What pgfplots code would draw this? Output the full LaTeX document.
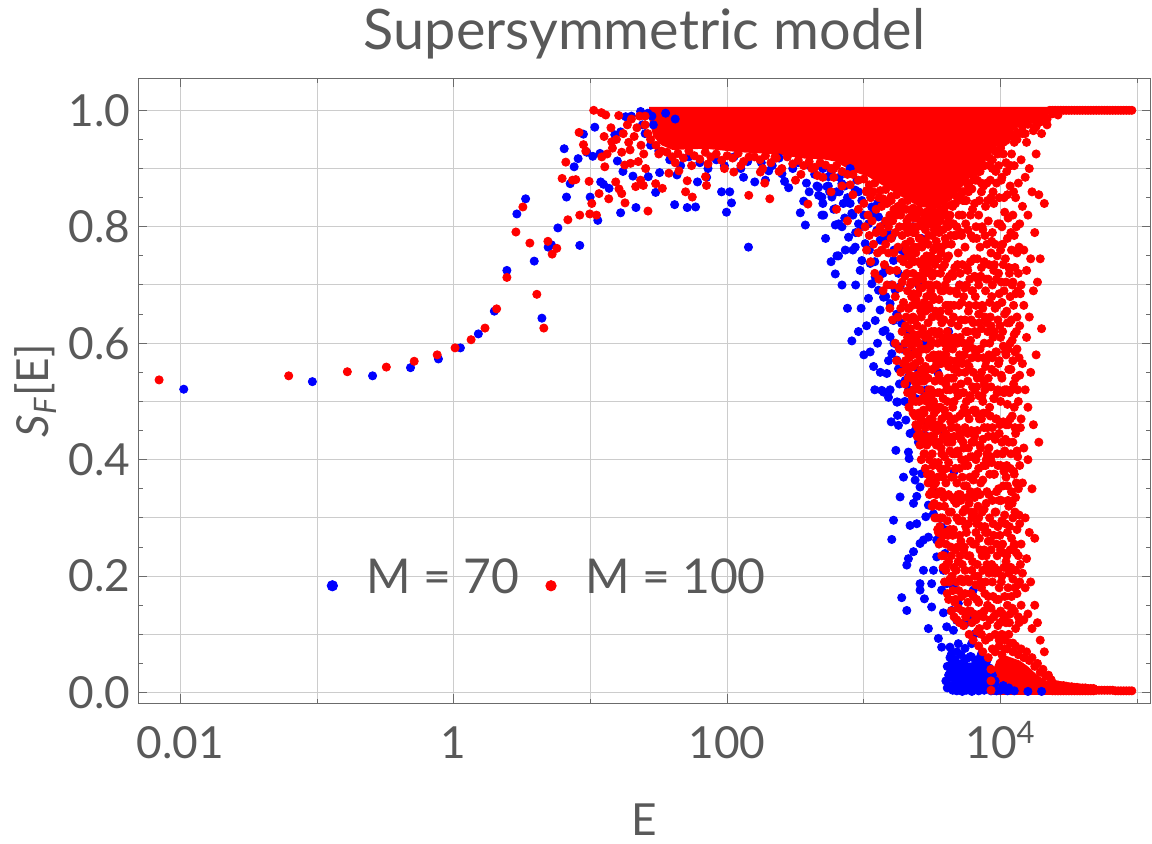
\documentclass[border=0pt]{standalone}
\usepackage{fontspec}
\setmainfont{Lato}
\usepackage{pgfplots}
\pgfplotsset{compat=1.18}
\definecolor{txt}{rgb}{0.35,0.35,0.35}
\definecolor{frm}{rgb}{0.42,0.42,0.42}
\definecolor{grd}{rgb}{0.8,0.8,0.8}
\begin{document}
\begin{tikzpicture}
\path[use as bounding box] (-69.15pt,-70.35pt) rectangle (506.85pt,351.65pt);
\begin{axis}[
  at={(0,0)}, anchor=south west,
  scale only axis, width=506.1pt, height=312.5pt,
  xmode=log, xmin=0.00493, xmax=124900,
  ymin=-0.0184, ymax=1.055,
  /pgf/number format/assume math mode=true,
  xtick={0.01,1,100,10000}, xticklabels={0.01,1,100,10\textsuperscript{4}},
  minor xtick={0.1,10,1000,100000},
  ytick={0,0.2,0.4,0.6,0.8,1.0},
  minor ytick={0.1,0.3,0.5,0.7,0.9},
  extra y ticks={0.05,0.15,0.25,0.35,0.45,0.55,0.65,0.75,0.85,0.95},
  extra y tick labels={},
  extra y tick style={grid=none, major tick length=2.2pt},
  yticklabel style={/pgf/number format/fixed, /pgf/number format/fixed zerofill, /pgf/number format/precision=1,
     font=\fontsize{22.1}{26}\selectfont, text=txt, anchor=east, inner sep=0pt, xshift=-3.9pt},
  xticklabel style={font=\fontsize{22.1}{26}\selectfont, text=txt, anchor=base, inner sep=0pt, yshift=-27.5pt},
  grid=both, grid style={grd, line width=0.5pt}, minor grid style={grd, line width=0.5pt},
  major tick length=4.5pt, minor tick length=2.2pt,
  tick style={frm, line width=0.5pt},
  axis line style={frm, line width=0.6pt},
  xtick pos=both, ytick pos=both,
  title={Supersymmetric model},
  title style={at={(axis description cs:0.5,1)}, anchor=base, yshift=8.5pt, inner sep=0pt,
     font=\fontsize{27.9}{33}\selectfont, text=txt},
  xlabel={E},
  xlabel style={at={(axis description cs:0.5,0)}, anchor=base, yshift=-66.3pt, inner sep=0pt,
     font=\fontsize{22.1}{26}\selectfont, text=txt},
  ylabel={\textit{S}\textsubscript{\textit{F}}[E]},
  ylabel style={at={(axis description cs:-0.1011,0.5)}, anchor=center, inner sep=0pt,
     font=\fontsize{22.1}{26}\selectfont, text=txt},
  legend columns=2,
  legend style={draw=none, fill=none, at={(axis description cs:0.1862,0.2018)}, anchor=west,
     inner sep=0pt, outer sep=0pt, font=\fontsize{24}{29}\selectfont, text=txt,
     nodes={anchor=base},
     /tikz/every even column/.append style={column sep=11.1pt}},
  legend image code/.code={\fill[#1] (0pt,3.65pt) circle (2.6pt); \path[draw=none] (-2.6pt,0pt) -- (15.1pt,0pt);},
  bl/.style={blue, only marks, mark=*, mark size=2.05pt, mark options={draw=none, fill=blue}, forget plot},
  rd/.style={red, only marks, mark=*, mark size=2.05pt, mark options={draw=none, fill=red}, forget plot},
]
% ---------------- M = 70 (blue) ----------------
\addplot[bl] coordinates {
(0.0106,0.521)(0.0925,0.534)(0.255,0.544)(0.483,0.558)(0.773,0.573)(1.119,0.592)(1.514,0.616)(1.982,0.655)
(2.449,0.725)(2.897,0.822)(3.357,0.848)(3.882,0.741)(4.416,0.643)(4.909,0.765)(5.188,0.769)(5.781,0.798)
(6.683,0.851)(6.427,0.934)(7.112,0.874)(7.603,0.903)(8.128,0.917)(8.89,0.959)(8.356,0.768)(9.397,0.928)
(9.954,0.851)(10.40,0.921)(10.76,0.971)(11.32,0.811)(11.89,0.877)(11.75,0.926)(12.45,0.873)(13.68,0.866)
(15.07,0.958)(16.63,0.963)(16.63,0.824)(15.74,0.913)(17.30,0.895)(18.11,0.989)(20.46,0.887)(21.53,0.833)
(23.28,0.998)(26.49,0.886)(29.99,0.859)(32.06,0.893)(41.30,0.838)(42.95,0.889)(51.05,0.833)(58.75,0.834)
(60.67,0.877)(91.0,0.86)(104.5,0.86)(107.6,0.841)(98.9,0.825)(143.2,0.765)(159.2,0.877)(201.4,0.896)
(251.8,0.891)(281.8,0.867)(342.8,0.824)(373.3,0.803)(363.1,0.844)(453.9,0.87)(493.2,0.82)(466.7,0.854)
(537.0,0.869)(618.0,0.831)(618.0,0.803)(635.3,0.75)(618.0,0.719)
(28.18,0.99)(35.48,0.995)(41.69,0.985)(23.99,0.975)(31.62,0.93)(38.02,0.915)(45.71,0.905)(52.48,0.92)
(63.1,0.91)(72.44,0.9)(83.18,0.915)(95.5,0.905)(112.2,0.92)(125.9,0.9)(141.3,0.912)(177.8,0.91)
(213.8,0.905)(239.9,0.918)(302,0.9)(331.1,0.91)(398.1,0.905)(436.5,0.89)(501.2,0.9)(575.4,0.895)
(660.7,0.885)(724.4,0.87)(794.3,0.9)(891.3,0.88)(70.79,0.885)(131.8,0.885)(190.5,0.88)(263,0.878)
(380.2,0.875)(562.3,0.86)(707.9,0.84)(398.1,0.86)(19.95,0.99)(26.3,0.995)(25.12,0.96)(27.54,0.94)(28.84,0.975)
(466.7,0.868)(493.2,0.851)(508.2,0.820)(583.4,0.851)(653.1,0.750)(816.6,0.604)(1112,0.585)(1178,0.560)
(966.1,0.742)(939.7,0.725)(1112,0.737)(1143,0.702)(1081,0.677)(1315,0.657)(1432,0.622)(1556,0.611)
(1742,0.571)(1791,0.556)(1472,0.548)(1556,0.520)(1393,0.516)(1742,0.499)(2061,0.531)(2118,0.542)
(2506,0.548)(1279,0.691)(1556,0.668)(1841,0.697)(1791,0.720)(1648,0.742)(1892,0.760)(1315,0.777)
(1245,0.794)(1514,0.788)(1081,0.805)(914.1,0.805)(816.6,0.823)(772.7,0.782)(653.1,0.805)(552.1,0.886)
(690.2,0.874)(865.0,0.863)(966.1,0.845)(1143,0.834)(1279,0.817)(1432,0.805)(1600,0.782)(1023,0.771)
(865.0,0.765)(731.1,0.760)(1432,0.731)(1211,0.714)(1694,0.691)(1393,0.679)(1211,0.639)(1648,0.639)
(1892,0.634)(2004,0.599)(1791,0.594)(1600,0.582)(2239,0.582)(2371,0.559)(2004,0.536)(2239,0.513)
(2649,0.519)(2805,0.542)(583.4,0.897)(493.2,0.903)(751.6,0.891)
(524.8,0.78)(575.4,0.74)(691.8,0.70)(758.6,0.66)(724.4,0.815)(831.8,0.76)(871,0.70)(955,0.66)
(912,0.62)(1000,0.58)(1047,0.63)(1096,0.76)(1148,0.82)(1202,0.74)(1259,0.60)(1318,0.55)
(1380,0.72)(1445,0.68)(1514,0.57)(1585,0.70)(1660,0.60)(1738,0.65)(1820,0.53)(1905,0.59)
(1995,0.56)(1995,0.50)(2089,0.62)(2291,0.52)(2188,0.58)(2399,0.505)(955,0.80)(1047,0.86)
(1259,0.84)(1445,0.78)(1660,0.76)(794.3,0.84)(631,0.86)(1202,0.52)(1380,0.62)
(501.2,0.84)(549.5,0.87)(602.6,0.83)(660.7,0.86)(758.6,0.85)(831.8,0.82)(912,0.86)(1000,0.82)(871,0.79)(691.8,0.80)
(1352,0.519)(1514,0.507)(1762,0.499)(2118,0.519)(2239,0.511)(1762,0.476)(1585,0.465)(1791,0.459)
(2028,0.468)(2178,0.445)(2371,0.450)(2965,0.462)(2805,0.442)(2506,0.430)(1714,0.416)(2118,0.413)
(2143,0.402)(2307,0.379)(1950,0.370)(2371,0.365)(2649,0.376)(2576,0.353)(1841,0.336)(2438,0.337)
(2307,0.325)(2965,0.322)(3319,0.342)(1648,0.296)(2178,0.287)(2438,0.290)(2838,0.302)(3228,0.307)
(3606,0.299)(1600,0.263)(2576,0.256)(2729,0.262)(2965,0.267)(3412,0.262)(3707,0.284)(4036,0.279)
(2118,0.230)(2307,0.242)(3412,0.233)(3926,0.239)(2061,0.219)(2729,0.210)(3228,0.210)(3819,0.210)
(2576,0.187)(3133,0.187)(2576,0.176)(2773,0.161)(3707,0.176)(4036,0.187)(4519,0.181)(3133,0.147)
(3819,0.137)(4385,0.141)(4909,0.153)(6310,0.176)(1892,0.163)(2061,0.141)(2965,0.110)(3508,0.093)
(4036,0.113)(4519,0.107)(4775,0.124)(5495,0.118)(5970,0.124)(6501,0.101)(6138,0.084)(3707,0.078)
(4266,0.078)(4385,0.067)(4909,0.084)(5495,0.076)(4645,0.056)(5188,0.050)(6138,0.061)(6871,0.050)
(7262,0.067)(7691,0.056)(4519,0.038)(4775,0.027)(4909,0.015)(5188,0.010)(5808,0.027)(6501,0.021)
(7262,0.027)(8128,0.033)(8590,0.021)(9099,0.015)(4385,0.050)(4266,0.033)(5047,0.033)(5649,0.013)
(6310,0.007)(7063,0.007)(7907,0.010)(5495,0.038)(5970,0.044)
(3981,0.02)(4074,0.045)(4074,0.008)(4169,0.03)(4266,0.012)(4266,0.06)(4365,0.04)(4467,0.004)(4467,0.025)
(4571,0.055)(4677,0.015)(4677,0.035)(4786,0.07)(4786,0.003)(4898,0.028)(4898,0.048)(5012,0.01)(5129,0.038)
(5129,0.065)(5248,0.02)(5248,0.002)(5370,0.05)(5495,0.012)(5495,0.03)(5623,0.058)(5623,0.004)(5754,0.022)
(5754,0.042)(5888,0.008)(6026,0.033)(6026,0.062)(6166,0.016)(6166,0.002)(6310,0.045)(6457,0.025)(6457,0.006)
(6607,0.052)(6607,0.014)(6761,0.035)(6918,0.003)(6918,0.02)(7079,0.06)(7079,0.04)(7244,0.01)(7413,0.028)
(7413,0.048)(7586,0.004)(7762,0.018)(7762,0.038)(7943,0.055)(8128,0.008)(8128,0.026)(8318,0.042)(8511,0.003)
(8511,0.016)(8710,0.03)(8913,0.006)(9120,0.02)(9333,0.003)
(10000,0.004)(11220,0.003)(12590,0.003)(15850,0.002)(19950,0.002)(10470,0.012)(11480,0.008)
(3802,0.45)(4169,0.62)(4571,0.38)(3467,0.55)(5012,0.70)(3162,0.72)(2754,0.60)(3020,0.66)(2512,0.70)
(2630,0.78)(2291,0.80)(1995,0.75)(2884,0.52)
};
% ---------------- M = 100 (red) ----------------
\addplot[red, fill=red, draw=none, forget plot] coordinates {
(26.9,1.006)(26.9,0.985)(28.8,0.955)(33.1,0.94)(39.8,0.932)(69.2,0.934)(123,0.928)(214,0.925)(372,0.917)
(501,0.916)(617,0.912)(813,0.896)(1072,0.886)(1445,0.868)(1905,0.851)(2512,0.835)(3311,0.83)(4365,0.846)
(5754,0.88)(7762,0.913)(9550,0.94)(12020,0.963)(15140,0.979)(18620,0.99)(22390,0.996)(22390,1.006)
} -- cycle;
\addplot[red, fill=red, draw=none, forget plot] coordinates {
(8710,-0.004)(8710,0.035)(9333,0.055)(10470,0.065)(12020,0.06)(13800,0.055)(15850,0.045)(18200,0.032)
(20890,0.022)(23990,0.016)(23990,-0.004)
} -- cycle;
\addplot[rd] coordinates {
(0.00700,0.537)(0.0621,0.544)(0.1667,0.551)(0.3214,0.559)(0.514,0.569)(0.757,0.580)(1.023,0.592)(1.340,0.606)
(1.694,0.626)(2.061,0.659)(2.449,0.713)(2.851,0.791)(3.206,0.834)(3.606,0.772)(4.055,0.684)(4.560,0.626)
(4.887,0.775)(5.248,0.753)(5.675,0.763)(6.839,0.812)(6.209,0.883)(6.607,0.911)(7.396,0.880)(7.816,0.881)
(8.260,0.962)(8.356,0.820)(8.892,0.941)(9.247,0.930)(9.772,0.878)(9.886,0.822)(10.23,0.840)(10.57,1.000)
(11.07,0.820)(11.56,0.857)(12.02,0.996)(12.94,0.992)(12.11,0.920)(12.59,0.955)(13.61,0.848)(12.74,0.903)
(13.24,0.925)(14.32,0.946)(14.49,0.935)(16.11,0.991)(15.31,0.877)(16.18,0.865)(16.94,0.857)(16.94,0.928)
(17.91,0.841)(17.82,0.906)(18.62,0.975)(19.50,0.932)(19.68,0.909)(21.43,0.869)(22.39,0.912)(23.28,0.880)
(24.38,0.871)(25.35,0.900)(26.36,0.827)(29.99,0.874)(33.57,0.866)(37.50,0.892)(44.36,0.896)(49.66,0.860)
(51.05,0.879)(55.59,0.851)(70.63,0.871)(69.50,0.886)(111.9,0.894)(143.9,0.854)(205.1,0.848)(188.4,0.875)
(175.0,0.894)(389.9,0.839)
(14.13,0.97)(15.49,0.95)(17.38,0.96)(19.95,0.985)(20.89,0.955)(21.88,0.97)(23.44,0.94)(24.55,0.925)
(22.91,0.99)(19.05,0.945)(158.5,0.92)(223.9,0.92)(251.2,0.90)(316.2,0.88)(416.9,0.90)(501.2,0.885)(602.6,0.90)
(25.12,0.99)(25.12,0.975)(26.30,0.96)(27.54,0.95)(30.20,0.94)(33.11,0.93)(36.31,0.928)(39.81,0.92)
(43.65,0.926)(47.86,0.918)(52.48,0.93)(57.54,0.922)(63.10,0.916)(69.18,0.928)(75.86,0.92)(83.18,0.925)
(91.20,0.914)(100.0,0.922)(109.6,0.918)(120.2,0.926)(131.8,0.912)(144.5,0.92)(173.8,0.915)(190.5,0.922)
(208.9,0.91)(229.1,0.918)(275.4,0.92)(302.0,0.908)(331.1,0.914)(363.1,0.905)(398.1,0.912)(436.5,0.902)
(478.6,0.91)(524.8,0.906)(575.4,0.9)(631.0,0.905)(691.8,0.895)(758.6,0.89)(831.8,0.89)(912.0,0.88)
(1000,0.882)(1096,0.872)(1202,0.875)(1318,0.862)(1445,0.864)(1585,0.852)(1738,0.855)(1905,0.842)
(2089,0.845)(2291,0.832)(2512,0.83)(2754,0.822)(3020,0.828)(3311,0.82)(3631,0.83)(3981,0.836)
(4365,0.838)(4786,0.852)(5248,0.86)(5754,0.872)(6310,0.888)(6918,0.895)(7586,0.905)(8318,0.918)
(9120,0.93)(10000,0.94)(10960,0.948)(12020,0.958)(13180,0.962)(14450,0.972)(15850,0.976)(17380,0.984)
(19050,0.986)(20890,0.992)
(31.62,0.925)(41.69,0.91)(54.95,0.905)(72.44,0.908)(95.50,0.9)(125.9,0.905)(182.0,0.9)(239.9,0.895)
(346.7,0.89)(457.1,0.888)(602.6,0.885)(794.3,0.872)(1047,0.862)(1380,0.848)(1820,0.83)(2399,0.815)
(3162,0.805)(4169,0.815)(5495,0.845)(7244,0.875)(8710,0.9)(10470,0.925)(12590,0.945)(15140,0.96)(18200,0.972)
(22910,1.0)(23990,1.0)(25120,1.0)(26300,1.0)(27540,1.0)(28840,1.0)(30200,1.0)(31620,1.0)(33110,1.0)
(34670,1.0)(36310,1.0)(38020,1.0)(39810,1.0)(41690,1.0)(43650,1.0)(45710,1.0)(47860,1.0)(50120,1.0)
(52480,1.0)(54950,1.0)(57540,1.0)(60260,1.0)(63100,1.0)(66070,1.0)(69180,1.0)(72440,1.0)(75860,1.0)
(79430,1.0)(83180,1.0)(87100,1.0)(91200,1.0)(23990,0.994)(26300,0.992)(21880,0.985)(25120,0.997)
(19500,0.98)(17780,0.97)
(575.4,0.86)(631.0,0.83)(691.8,0.87)(758.6,0.81)(831.8,0.855)(912.0,0.83)(912.0,0.79)
(1000,0.84)(1023,0.80)(1047,0.86)(1047,0.76)(1072,0.82)(1096,0.785)(1122,0.85)(1122,0.74)(1148,0.81)
(1175,0.77)(1175,0.86)(1202,0.72)(1230,0.83)(1230,0.79)(1259,0.755)(1288,0.85)(1288,0.71)(1318,0.80)
(1349,0.835)(1349,0.76)(1380,0.69)(1380,0.79)(1413,0.845)(1413,0.735)(1445,0.81)(1445,0.77)(1479,0.70)
(1479,0.84)(1514,0.755)(1514,0.80)(1549,0.82)(1549,0.66)(1549,0.725)(1585,0.78)(1585,0.845)
(1622,0.70)(1622,0.81)(1622,0.64)(1660,0.755)(1660,0.83)(1698,0.60)(1698,0.79)(1698,0.68)
(1738,0.82)(1738,0.725)(1738,0.57)(1778,0.765)(1778,0.645)(1778,0.835)(1820,0.695)(1820,0.80)(1820,0.59)
(1862,0.745)(1862,0.55)(1862,0.82)(1862,0.66)(1905,0.785)(1905,0.62)(1905,0.705)
(1950,0.83)(1950,0.565)(1950,0.74)(1950,0.67)(1995,0.60)(1995,0.80)(1995,0.715)(1995,0.53)
(2042,0.76)(2042,0.645)(2042,0.83)(2042,0.555)(2089,0.69)(2089,0.515)(2089,0.79)(2089,0.61)
(2138,0.735)(2138,0.815)(2138,0.575)(2138,0.66)(2138,0.49)(2188,0.775)(2188,0.625)(2188,0.545)(2188,0.70)
(2239,0.82)(2239,0.68)(2239,0.51)(2239,0.595)(2239,0.745)(2291,0.645)(2291,0.79)(2291,0.48)(2291,0.72)(2291,0.56)
(2344,0.705)(2344,0.535)(2344,0.815)(2344,0.61)(2344,0.765)(2399,0.585)(2399,0.755)(2399,0.46)(2399,0.675)(2399,0.50)
(2455,0.80)(2455,0.63)(2455,0.715)(2455,0.545)(2455,0.44)(2512,0.74)(2512,0.60)(2512,0.825)(2512,0.48)(2512,0.665)
(2570,0.52)(2570,0.78)(2570,0.695)(2570,0.425)(2570,0.57)
(2630,0.645)(2630,0.81)(2630,0.47)(2630,0.735)(2630,0.555)(2630,0.40)
(2692,0.71)(2692,0.59)(2692,0.77)(2692,0.44)(2692,0.505)(2692,0.625)
(2754,0.535)(2754,0.805)(2754,0.67)(2754,0.41)(2754,0.745)(2754,0.48)
(2818,0.61)(2818,0.72)(2818,0.385)(2818,0.56)(2818,0.795)(2818,0.455)(2818,0.655)
(2884,0.75)(2884,0.50)(2884,0.425)(2884,0.68)(2884,0.59)(2884,0.815)
(2951,0.36)(2951,0.635)(2951,0.54)(2951,0.77)(2951,0.465)(2951,0.70)
(3020,0.805)(3020,0.575)(3020,0.40)(3020,0.725)(3020,0.49)(3020,0.66)(3020,0.34)
(3090,0.605)(3090,0.44)(3090,0.75)(3090,0.52)(3090,0.69)(3090,0.375)
(3162,0.785)(3162,0.555)(3162,0.32)(3162,0.645)(3162,0.47)(3162,0.715)(3162,0.41)
(3236,0.50)(3236,0.825)(3236,0.58)(3236,0.355)(3236,0.675)(3236,0.44)(3236,0.76)
(3311,0.62)(3311,0.30)(3311,0.735)(3311,0.535)(3311,0.395)(3311,0.81)(3311,0.46)
(3388,0.70)(3388,0.34)(3388,0.485)(3388,0.775)(3388,0.57)(3388,0.65)(3388,0.425)
(3467,0.28)(3467,0.60)(3467,0.515)(3467,0.745)(3467,0.37)(3467,0.82)(3467,0.45)
(3548,0.675)(3548,0.32)(3548,0.545)(3548,0.43)(3548,0.79)(3548,0.255)(3548,0.62)
(3631,0.49)(3631,0.72)(3631,0.385)(3631,0.58)(3631,0.30)(3631,0.81)(3631,0.655)
(3715,0.235)(3715,0.535)(3715,0.765)(3715,0.41)(3715,0.635)(3715,0.345)(3715,0.47)
(3802,0.69)(3802,0.27)(3802,0.57)(3802,0.44)(3802,0.795)(3802,0.505)(3802,0.215)(3802,0.37)
(3890,0.60)(3890,0.32)(3890,0.735)(3890,0.485)(3890,0.19)(3890,0.825)(3890,0.405)
(3981,0.255)(3981,0.665)(3981,0.53)(3981,0.36)(3981,0.77)(3981,0.445)(3981,0.58)(3981,0.21)
(4074,0.805)(4074,0.43)(4074,0.17)(4074,0.62)(4074,0.295)(4074,0.71)(4074,0.50)
(4169,0.34)(4169,0.56)(4169,0.225)(4169,0.75)(4169,0.475)(4169,0.655)(4169,0.395)(4169,0.16)
(4266,0.69)(4266,0.28)(4266,0.52)(4266,0.82)(4266,0.415)(4266,0.195)(4266,0.60)
(4365,0.455)(4365,0.14)(4365,0.635)(4365,0.31)(4365,0.77)(4365,0.54)(4365,0.235)(4365,0.37)
(4467,0.715)(4467,0.175)(4467,0.49)(4467,0.59)(4467,0.27)(4467,0.835)(4467,0.41)
(4571,0.33)(4571,0.555)(4571,0.13)(4571,0.785)(4571,0.44)(4571,0.665)(4571,0.215)(4571,0.50)
(4677,0.61)(4677,0.385)(4677,0.245)(4677,0.73)(4677,0.16)(4677,0.525)(4677,0.84)
(4786,0.455)(4786,0.30)(4786,0.685)(4786,0.125)(4786,0.57)(4786,0.80)(4786,0.36)(4786,0.19)
(4898,0.755)(4898,0.51)(4898,0.225)(4898,0.63)(4898,0.41)(4898,0.145)(4898,0.34)
(5012,0.27)(5012,0.58)(5012,0.85)(5012,0.475)(5012,0.70)(5012,0.12)(5012,0.385)
(5129,0.64)(5129,0.33)(5129,0.53)(5129,0.195)(5129,0.79)(5129,0.435)(5129,0.26)
(5248,0.565)(5248,0.14)(5248,0.735)(5248,0.37)(5248,0.82)(5248,0.295)(5248,0.48)(5248,0.22)
(5370,0.42)(5370,0.68)(5370,0.245)(5370,0.60)(5370,0.115)(5370,0.515)(5370,0.86)
(5495,0.315)(5495,0.765)(5495,0.17)(5495,0.455)(5495,0.64)(5495,0.39)(5495,0.55)(5495,0.21)
(5623,0.70)(5623,0.275)(5623,0.50)(5623,0.845)(5623,0.135)(5623,0.59)(5623,0.355)
(5754,0.445)(5754,0.62)(5754,0.235)(5754,0.795)(5754,0.39)(5754,0.535)(5754,0.155)(5754,0.725)
(5888,0.325)(5888,0.875)(5888,0.56)(5888,0.19)(5888,0.665)(5888,0.47)(5888,0.10)
(6026,0.74)(6026,0.405)(6026,0.26)(6026,0.605)(6026,0.505)(6026,0.82)(6026,0.14)(6026,0.345)
(6166,0.575)(6166,0.21)(6166,0.69)(6166,0.43)(6166,0.30)(6166,0.865)(6166,0.12)
(6310,0.365)(6310,0.635)(6310,0.165)(6310,0.78)(6310,0.485)(6310,0.255)(6310,0.55)(6310,0.09)
(6457,0.715)(6457,0.44)(6457,0.62)(6457,0.20)(6457,0.335)(6457,0.84)(6457,0.52)
(6607,0.275)(6607,0.585)(6607,0.80)(6607,0.125)(6607,0.40)(6607,0.665)(6607,0.48)(6607,0.185)
(6761,0.54)(6761,0.88)(6761,0.345)(6761,0.745)(6761,0.22)(6761,0.45)(6761,0.105)
(6918,0.65)(6918,0.30)(6918,0.82)(6918,0.155)(6918,0.51)(6918,0.385)(6918,0.70)(6918,0.08)
(7079,0.425)(7079,0.245)(7079,0.59)(7079,0.895)(7079,0.34)(7079,0.765)(7079,0.135)
(7244,0.73)(7244,0.18)(7244,0.47)(7244,0.625)(7244,0.285)(7244,0.86)(7244,0.55)(7244,0.10)
(7413,0.365)(7413,0.795)(7413,0.21)(7413,0.66)(7413,0.50)(7413,0.07)(7413,0.435)
(7586,0.60)(7586,0.315)(7586,0.905)(7586,0.14)(7586,0.74)(7586,0.455)(7586,0.245)(7586,0.53)
(7762,0.835)(7762,0.39)(7762,0.56)(7762,0.19)(7762,0.69)(7762,0.275)(7762,0.09)
(7943,0.48)(7943,0.635)(7943,0.115)(7943,0.875)(7943,0.345)(7943,0.77)(7943,0.22)(7943,0.41)
(8128,0.71)(8128,0.26)(8128,0.54)(8128,0.06)(8128,0.44)(8128,0.81)(8128,0.165)
(8318,0.375)(8318,0.905)(8318,0.60)(8318,0.21)(8318,0.67)(8318,0.30)(8318,0.095)(8318,0.49)
(8511,0.755)(8511,0.145)(8511,0.525)(8511,0.85)(8511,0.405)(8511,0.245)(8511,0.63)
(8710,0.33)(8710,0.70)(8710,0.455)(8710,0.075)(8710,0.915)(8710,0.575)(8710,0.19)(8710,0.79)
(8913,0.615)(8913,0.27)(8913,0.84)(8913,0.13)(8913,0.505)(8913,0.375)(8913,0.725)
(9120,0.435)(9120,0.93)(9120,0.205)(9120,0.66)(9120,0.55)(9120,0.31)(9120,0.10)(9120,0.77)
(9333,0.875)(9333,0.345)(9333,0.585)(9333,0.16)(9333,0.47)(9333,0.71)(9333,0.255)
(9550,0.52)(9550,0.805)(9550,0.115)(9550,0.39)(9550,0.64)(9550,0.285)(9550,0.925)(9550,0.21)
(9772,0.685)(9772,0.18)(9772,0.445)(9772,0.85)(9772,0.33)(9772,0.57)(9772,0.09)
(10000,0.245)(10000,0.76)(10000,0.50)(10000,0.935)(10000,0.14)(10000,0.61)(10000,0.39)
(10230,0.43)(10230,0.885)(10230,0.295)(10230,0.67)(10230,0.20)(10230,0.54)(10230,0.80)(10230,0.10)
(10470,0.595)(10470,0.355)(10470,0.735)(10470,0.125)(10470,0.465)(10470,0.945)(10470,0.24)
(10720,0.825)(10720,0.165)(10720,0.52)(10720,0.305)(10720,0.65)(10720,0.415)(10720,0.075)
(10960,0.37)(10960,0.705)(10960,0.225)(10960,0.58)(10960,0.91)(10960,0.46)(10960,0.12)
(11220,0.635)(11220,0.275)(11220,0.78)(11220,0.15)(11220,0.495)(11220,0.355)(11220,0.855)
(11480,0.205)(11480,0.555)(11480,0.43)(11480,0.73)(11480,0.32)(11480,0.955)(11480,0.10)
(11750,0.68)(11750,0.385)(11750,0.87)(11750,0.245)(11750,0.60)(11750,0.135)(11750,0.47)
(12020,0.52)(12020,0.165)(12020,0.76)(12020,0.345)(12020,0.925)(12020,0.265)(12020,0.64)
(12300,0.43)(12300,0.82)(12300,0.195)(12300,0.57)(12300,0.30)(12300,0.705)(12300,0.085)
(12590,0.615)(12590,0.255)(12590,0.905)(12590,0.49)(12590,0.14)(12590,0.375)(12590,0.785)
(12880,0.335)(12880,0.685)(12880,0.21)(12880,0.85)(12880,0.54)(12880,0.11)(12880,0.445)
(13180,0.755)(13180,0.28)(13180,0.59)(13180,0.415)(13180,0.95)(13180,0.17)(13180,0.645)
(13490,0.50)(13490,0.235)(13490,0.875)(13490,0.35)(13490,0.72)(13490,0.13)
(13800,0.63)(13800,0.39)(13800,0.805)(13800,0.19)(13800,0.545)(13800,0.29)
(14130,0.915)(14130,0.47)(14130,0.255)(14130,0.70)(14130,0.15)
(14450,0.36)(14450,0.835)(14450,0.565)(14450,0.205)(14450,0.96)
(14790,0.665)(14790,0.42)(14790,0.125)(14790,0.76)(15140,0.52)(15140,0.30)(15140,0.885)(15140,0.18)
(15490,0.725)(15490,0.23)(15490,0.61)(15490,0.945)(15850,0.40)(15850,0.82)(15850,0.135)(15850,0.49)
(16220,0.645)(16220,0.275)(16220,0.90)(16600,0.55)(16600,0.19)(16600,0.745)(16980,0.86)(16980,0.35)(16980,0.11)
(17380,0.46)(17380,0.69)(17380,0.965)(17780,0.265)(17780,0.79)(17780,0.15)(18200,0.58)(18200,0.925)
(18620,0.705)(18620,0.12)(19050,0.855)(19050,0.43)(19500,0.745)(19500,0.09)(19950,0.96)(19950,0.625)
(20890,0.84)(20890,0.07)(21880,0.975)
(8511,0.004)(8511,0.02)(8511,0.04)(9120,0.07)(9772,0.08)(10230,0.065)(10720,0.09)(11220,0.075)(11750,0.085)
(12300,0.07)(12880,0.08)(13490,0.065)(14130,0.075)(14790,0.06)(15490,0.07)(16220,0.055)(16980,0.06)
(17780,0.045)(18620,0.05)(19500,0.035)(20420,0.04)(21380,0.028)(22390,0.03)(23440,0.022)
(23990,0.003)(23990,0.015)(25120,0.003)(25120,0.014)(26300,0.003)(26300,0.013)(27540,0.003)(27540,0.012)
(28840,0.003)(28840,0.012)(30200,0.003)(30200,0.011)(31620,0.003)(31620,0.010)(33110,0.003)(33110,0.010)
(34670,0.003)(34670,0.009)(36310,0.003)(36310,0.009)(38020,0.003)(38020,0.008)(39810,0.003)(39810,0.008)
(41690,0.003)(41690,0.008)(43650,0.003)(43650,0.007)(45710,0.003)(45710,0.007)(47860,0.003)(47860,0.007)
(50120,0.004)(52480,0.004)(54950,0.004)(57540,0.004)(60260,0.004)(63100,0.004)(66070,0.004)(69180,0.003)
(72440,0.003)(75860,0.003)(79430,0.003)(83180,0.003)(87100,0.003)(91200,0.003)
};
\addplot[rd] coordinates {
(2018,0.77)(2018,0.63)(2018,0.57)(2065,0.72)(2065,0.585)(2065,0.81)(2113,0.66)(2113,0.54)(2113,0.75)
(2163,0.80)(2163,0.60)(2163,0.515)(2213,0.705)(2213,0.56)(2213,0.76)(2213,0.64)
(2265,0.50)(2265,0.665)(2265,0.80)(2265,0.58)(2317,0.74)(2317,0.615)(2317,0.52)(2317,0.685)
(2371,0.79)(2371,0.475)(2371,0.64)(2371,0.565)(2427,0.705)(2427,0.53)(2427,0.82)(2427,0.605)
(2483,0.455)(2483,0.765)(2483,0.58)(2483,0.685)(2541,0.715)(2541,0.50)(2541,0.78)(2541,0.615)(2541,0.445)
(2600,0.655)(2600,0.81)(2600,0.465)(2600,0.59)(2661,0.535)(2661,0.765)(2661,0.43)(2661,0.695)
(2723,0.80)(2723,0.615)(2723,0.485)(2723,0.725)(2786,0.41)(2786,0.66)(2786,0.545)(2786,0.775)
(2851,0.70)(2851,0.44)(2851,0.59)(2851,0.825)(2851,0.51)(2917,0.375)(2917,0.615)(2917,0.735)(2917,0.555)
(2985,0.785)(2985,0.43)(2985,0.665)(2985,0.52)(3055,0.365)(3055,0.595)(3055,0.70)(3055,0.47)(3055,0.82)
(3126,0.745)(3126,0.51)(3126,0.345)(3126,0.62)(3199,0.39)(3199,0.68)(3199,0.575)(3199,0.81)(3199,0.455)
(3273,0.62)(3273,0.325)(3273,0.72)(3273,0.48)(3273,0.795)(3350,0.56)(3350,0.36)(3350,0.765)(3350,0.43)(3350,0.655)
(3428,0.30)(3428,0.70)(3428,0.49)(3428,0.615)(3428,0.80)(3508,0.745)(3508,0.395)(3508,0.58)(3508,0.46)(3508,0.275)
(3589,0.645)(3589,0.345)(3589,0.515)(3589,0.82)(3589,0.285)(3673,0.42)(3673,0.69)(3673,0.26)(3673,0.565)(3673,0.755)
(3758,0.61)(3758,0.30)(3758,0.73)(3758,0.455)(3758,0.38)(3846,0.235)(3846,0.535)(3846,0.82)(3846,0.64)(3846,0.335)
(3936,0.475)(3936,0.70)(3936,0.275)(3936,0.57)(3936,0.78)(4027,0.385)(4027,0.745)(4027,0.22)(4027,0.59)(4027,0.52)
(4121,0.665)(4121,0.27)(4121,0.54)(4121,0.80)(4121,0.44)(4217,0.19)(4217,0.61)(4217,0.43)(4217,0.715)(4217,0.31)
(4315,0.57)(4315,0.25)(4315,0.785)(4315,0.465)(4315,0.665)(4416,0.335)(4416,0.72)(4416,0.20)(4416,0.60)(4416,0.43)
(4519,0.645)(4519,0.28)(4519,0.54)(4519,0.805)(4519,0.37)(4624,0.155)(4624,0.60)(4624,0.41)(4624,0.73)(4624,0.47)
(4732,0.69)(4732,0.325)(4732,0.56)(4732,0.21)(4732,0.785)(4842,0.415)(4842,0.60)(4842,0.25)(4842,0.735)(4842,0.515)
(4955,0.82)(4955,0.295)(4955,0.55)(4955,0.175)(4955,0.665)(5070,0.445)(5070,0.72)(5070,0.235)(5070,0.61)(5070,0.34)
(5188,0.165)(5188,0.67)(5188,0.40)(5188,0.575)(5188,0.785)(5309,0.515)(5309,0.31)(5309,0.845)(5309,0.43)(5309,0.19)
(5433,0.695)(5433,0.25)(5433,0.49)(5433,0.58)(5433,0.355)(5559,0.40)(5559,0.805)(5559,0.13)(5559,0.62)(5559,0.285)
(5689,0.565)(5689,0.195)(5689,0.73)(5689,0.335)(5689,0.48)(5821,0.86)(5821,0.42)(5821,0.29)(5821,0.655)(5821,0.14)
(5957,0.51)(5957,0.235)(5957,0.71)(5957,0.37)(5957,0.595)(6095,0.31)(6095,0.785)(6095,0.45)(6095,0.17)(6095,0.64)
(6237,0.69)(6237,0.405)(6237,0.525)(6237,0.225)(6237,0.83)(6383,0.135)(6383,0.59)(6383,0.31)(6383,0.745)(6383,0.43)
(6531,0.485)(6531,0.255)(6531,0.68)(6531,0.375)(6531,0.88)(6683,0.615)(6683,0.16)(6683,0.525)(6683,0.29)(6683,0.78)
(6839,0.41)(6839,0.71)(6839,0.20)(6839,0.575)(6839,0.32)(6998,0.845)(6998,0.47)(6998,0.265)(6998,0.635)(6998,0.11)
(7161,0.36)(7161,0.54)(7161,0.19)(7161,0.715)(7161,0.42)(7328,0.665)(7328,0.31)(7328,0.80)(7328,0.235)(7328,0.51)
(7499,0.13)(7499,0.575)(7499,0.39)(7499,0.87)(7499,0.48)(7674,0.52)(7674,0.285)(7674,0.785)(7674,0.17)(7674,0.645)
(7852,0.40)(7852,0.71)(7852,0.235)(7852,0.57)(7852,0.325)(8035,0.845)(8035,0.455)(8035,0.15)(8035,0.62)(8035,0.275)
(8222,0.58)(8222,0.34)(8222,0.735)(8222,0.42)(8222,0.205)(8414,0.475)(8414,0.88)(8414,0.26)(8414,0.645)(8414,0.125)
(8610,0.395)(8610,0.775)(8610,0.555)(8610,0.22)(8610,0.68)(8810,0.61)(8810,0.29)(8810,0.86)(8810,0.44)(8810,0.165)
(9016,0.505)(9016,0.215)(9016,0.735)(9016,0.375)(9016,0.62)(9226,0.31)(9226,0.895)(9226,0.47)(9226,0.135)(9226,0.585)
(9441,0.75)(9441,0.41)(9441,0.235)(9441,0.665)(9441,0.515)(9661,0.565)(9661,0.16)(9661,0.905)(9661,0.35)(9661,0.72)
(9886,0.46)(9886,0.27)(9886,0.805)(9886,0.63)(9886,0.12)(10120,0.705)(10120,0.33)(10120,0.545)(10120,0.19)(10120,0.88)
(10350,0.41)(10350,0.77)(10350,0.255)(10350,0.62)(10350,0.135)(10590,0.515)(10590,0.85)(10590,0.215)(10590,0.69)(10590,0.38)
(10840,0.29)(10840,0.585)(10840,0.745)(10840,0.435)(10840,0.13)(11090,0.655)(11090,0.39)(11090,0.895)(11090,0.235)(11090,0.52)
(11350,0.46)(11350,0.18)(11350,0.815)(11350,0.59)(11350,0.33)(11610,0.72)(11610,0.285)(11610,0.515)(11610,0.12)(11610,0.635)
(11890,0.41)(11890,0.79)(11890,0.215)(11890,0.555)(11890,0.905)(12160,0.605)(12160,0.325)(12160,0.70)(12160,0.145)(12160,0.475)
(12450,0.25)(12450,0.86)(12450,0.53)(12450,0.38)(12450,0.665)(12740,0.455)(12740,0.73)(12740,0.18)(12740,0.585)(12740,0.31)
(13030,0.80)(13030,0.36)(13030,0.62)(13030,0.24)(13340,0.52)(13340,0.185)(13340,0.69)(13340,0.405)
(13650,0.305)(13650,0.765)(13650,0.575)(13650,0.12)(13960,0.455)(13960,0.685)(13960,0.22)
};
\addlegendimage{blue}
\addlegendentry{M = 70}
\addlegendimage{red}
\addlegendentry{M = 100}
\end{axis}
\end{tikzpicture}
\end{document}
